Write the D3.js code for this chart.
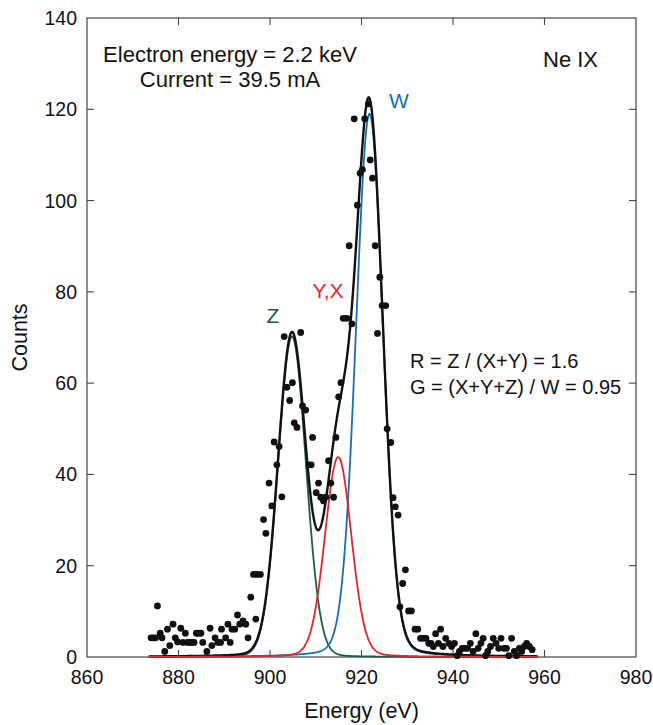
<!DOCTYPE html>
<html>
<head>
<meta charset="utf-8">
<script src="https://cdn.jsdelivr.net/npm/d3@7"></script>
<style>
  body { margin: 0; background: #fff; }
  svg { display: block; }
  text { font-family: "Liberation Sans", Arial, Helvetica, sans-serif; fill: #111; }
</style>
</head>
<body>
<svg id="chart" width="653" height="725"></svg>
<script>
// Measured spectrum: photon energy (eV) and counts per bin
const energy = [
  874.0, 874.5, 875.0, 875.4, 876.0, 876.4, 877.0, 877.6, 878.1, 878.8,
  879.3, 879.8, 880.5, 881.0, 881.5, 882.0, 882.4, 882.9, 883.4, 883.9,
  884.4, 884.9, 885.3, 886.2, 886.9, 887.3, 888.0, 888.6, 889.2, 889.4,
  890.3, 890.8, 891.3, 891.7, 892.3, 892.9, 893.4, 894.1, 894.7, 895.2,
  895.8, 896.4, 896.9, 897.1, 897.9, 898.6, 899.1, 899.8, 900.4, 900.9,
  901.5, 902.0, 902.6, 903.1, 903.7, 904.3, 904.9, 905.3, 905.9, 906.7,
  907.1, 907.8, 908.5, 909.0, 909.3, 910.1, 910.6, 911.1, 911.7, 912.2,
  912.8, 913.3, 913.9, 914.4, 915.0, 915.5, 916.0, 916.8, 917.3, 917.9,
  918.4, 919.1, 919.7, 920.2, 920.7, 921.5, 921.9, 922.4, 923.0, 923.5,
  924.0, 924.5, 925.3, 925.6, 926.4, 926.9, 927.4, 928.0, 928.4, 929.0,
  929.6, 930.3, 930.9, 931.7, 932.3, 932.9, 933.5, 934.1, 934.7, 935.2,
  935.7, 936.2, 936.8, 937.3, 937.8, 938.4, 939.1, 939.7, 940.3, 940.9,
  941.4, 942.0, 942.6, 943.2, 943.8, 944.4, 945.0, 945.5, 946.1, 946.6,
  947.1, 947.6, 948.2, 948.8, 949.4, 950.0, 950.5, 951.1, 951.7, 952.2,
  952.8, 953.4, 953.9, 954.5, 955.0, 955.6, 956.1, 956.7, 957.3
];
const counts = [
  4.2, 4.2, 4.2, 11.2, 5.2, 4.2, 1.2, 6.1, 2.5, 7.2,
  4.2, 3.3, 6.3, 3.2, 5.2, 3.2, 3.2, 3.2, 3.2, 5.2,
  5.2, 5.2, 3.2, 1.2, 6.3, 2.5, 4.2, 3.2, 3.2, 6.1,
  4.2, 7.2, 3.2, 6.1, 6.1, 9.2, 7.2, 7.9, 7.2, 4.2,
  13.1, 18.1, 8.3, 18.1, 18.1, 30.1, 27.1, 38.1, 33.1, 47.1,
  42.1, 46.1, 35.1, 70.2, 59.1, 56.2, 60.1, 51.3, 50.3, 71.1,
  55.0, 54.1, 42.1, 42.1, 48.1, 36.0, 38.1, 35.0, 34.2, 35.0,
  43.0, 38.1, 35.0, 48.1, 57.0, 60.1, 74.2, 74.2, 90.1, 73.0,
  117.9, 99.0, 106.0, 106.8, 117.9, 121.2, 108.9, 104.9, 90.1, 70.9,
  83.2, 77.0, 77.0, 50.0, 47.0, 34.9, 32.9, 31.1, 11.0, 16.1,
  19.1, 10.1, 10.1, 6.1, 6.1, 4.1, 4.1, 4.1, 3.0, 3.0,
  2.3, 5.1, 3.0, 6.1, 2.3, 4.1, 3.0, 2.3, 3.0, 0.3,
  1.2, 1.9, 1.9, 1.9, 3.0, 1.2, 5.1, 1.9, 3.0, 4.1,
  0.3, 1.2, 2.3, 4.1, 3.0, 1.9, 4.1, 1.9, 1.9, 0.3,
  4.1, 1.2, 0.3, 1.9, 1.2, 2.3, 3.0, 2.3, 1.6
];

// Axis ticks
const xTicks = [860, 880, 900, 920, 940, 960, 980];
const yTicks = [0, 20, 40, 60, 80, 100, 120, 140];

// Fitted line components (pseudo-Voigt): centre (eV), height, gaussian sigma, lorentz fraction
const lineNames  = ["Z", "Y,X", "W"];
const lineCentre = [904.8, 914.9, 921.75];
const lineHeight = [70.2, 43.8, 119.0];
const lineSigma  = [3.05, 2.9, 2.95];
const lineEta    = [0.04, 0.10, 0.10];
const lineColor  = ["#1d5c46", "#e2262b", "#1b6eae"];
const fitRange   = [873.5, 958.5];

const svg = d3.select("#chart");
const margin = { left: 87, right: 17, top: 18, bottom: 68 };
const W = 653, H = 725;
const x = d3.scaleLinear().domain([860, 980]).range([margin.left, W - margin.right]);
const y = d3.scaleLinear().domain([0, 140]).range([H - margin.bottom, margin.top]);

// frame
svg.append("rect")
  .attr("x", x(860)).attr("y", y(140))
  .attr("width", x(980) - x(860)).attr("height", y(0) - y(140))
  .attr("fill", "none").attr("stroke", "#444").attr("stroke-width", 1.2);

// inward ticks on all four sides
const tickLen = 7;
const tk = svg.append("g").attr("stroke", "#444").attr("stroke-width", 1.1);
xTicks.slice(1, -1).forEach(v => {
  tk.append("line").attr("x1", x(v)).attr("x2", x(v)).attr("y1", y(0)).attr("y2", y(0) - tickLen);
  tk.append("line").attr("x1", x(v)).attr("x2", x(v)).attr("y1", y(140)).attr("y2", y(140) + tickLen);
});
yTicks.slice(1, -1).forEach(v => {
  tk.append("line").attr("x1", x(860)).attr("x2", x(860) + tickLen).attr("y1", y(v)).attr("y2", y(v));
  tk.append("line").attr("x1", x(980)).attr("x2", x(980) - tickLen).attr("y1", y(v)).attr("y2", y(v));
});

// tick labels
svg.append("g").selectAll("text").data(xTicks).join("text")
  .attr("x", d => x(d)).attr("y", y(0) + 27)
  .attr("text-anchor", "middle").attr("font-size", 19.5)
  .text(d => d);
svg.append("g").selectAll("text").data(yTicks).join("text")
  .attr("x", x(860) - 10).attr("y", d => y(d) + 7)
  .attr("text-anchor", "end").attr("font-size", 19.5)
  .text(d => d);

// axis titles
svg.append("text")
  .attr("x", (x(860) + x(980)) / 2).attr("y", 718)
  .attr("text-anchor", "middle").attr("font-size", 21.5)
  .text("Energy (eV)");
svg.append("text")
  .attr("transform", `translate(27,${(y(0) + y(140)) / 2}) rotate(-90)`)
  .attr("text-anchor", "middle").attr("font-size", 21.5)
  .text("Counts");

// line profiles
function profile(i, e) {
  const d = e - lineCentre[i];
  const s = lineSigma[i];
  const g = Math.exp(-d * d / (2 * s * s));
  const hw = s * Math.sqrt(2 * Math.LN2);
  const l = 1 / (1 + (d / hw) * (d / hw));
  return lineHeight[i] * ((1 - lineEta[i]) * g + lineEta[i] * l);
}
const grid = d3.range(fitRange[0], fitRange[1] + 1e-9, 0.1);
const line = d3.line().x(d => x(d[0])).y(d => y(d[1]));

const comp = i => grid.map(e => [e, profile(i, e)]);
const total = grid.map(e => [e, lineNames.reduce((s, _, i) => s + profile(i, e), 0)]);

// draw order: Z, W, total fit, then Y,X
[0, 2].forEach(i => {
  svg.append("path").attr("d", line(comp(i)))
    .attr("fill", "none").attr("stroke", lineColor[i]).attr("stroke-width", 1.8);
});
svg.append("path").attr("d", line(total))
  .attr("fill", "none").attr("stroke", "#111").attr("stroke-width", 2.4);
svg.append("path").attr("d", line(comp(1)))
  .attr("fill", "none").attr("stroke", lineColor[1]).attr("stroke-width", 1.8);

// data points
svg.append("g").selectAll("circle").data(energy).join("circle")
  .attr("cx", d => x(d)).attr("cy", (d, i) => y(counts[i]))
  .attr("r", 3.4).attr("fill", "#111");

// line labels
const labelPos = [[273, 323], [328, 298], [399, 108]];
svg.append("g").selectAll("text").data(lineNames).join("text")
  .attr("x", (d, i) => labelPos[i][0]).attr("y", (d, i) => labelPos[i][1])
  .attr("text-anchor", "middle").attr("font-size", 21)
  .style("fill", (d, i) => lineColor[i])
  .text(d => d);

// annotations
svg.append("text").attr("x", 230).attr("y", 62).attr("text-anchor", "middle")
  .attr("font-size", 22).text("Electron energy = 2.2 keV");
svg.append("text").attr("x", 230).attr("y", 87).attr("text-anchor", "middle")
  .attr("font-size", 22).text("Current = 39.5 mA");
svg.append("text").attr("x", 543).attr("y", 67).attr("font-size", 22).text("Ne IX");
svg.append("text").attr("x", 410).attr("y", 368).attr("font-size", 20).text("R = Z / (X+Y) = 1.6");
svg.append("text").attr("x", 410).attr("y", 394).attr("font-size", 20).text("G = (X+Y+Z) / W = 0.95");
</script>
</body>
</html>
